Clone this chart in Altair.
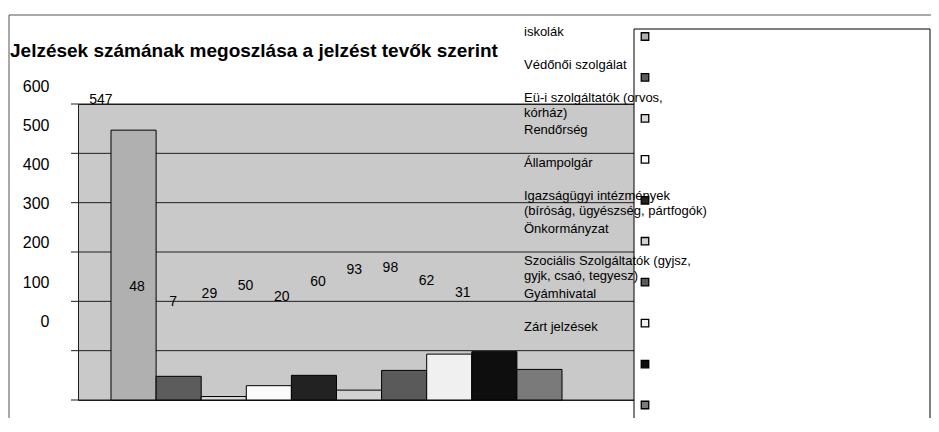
import altair as alt
import pandas as pd

FONT = "Liberation Sans, Arial, sans-serif"

title_text = "Jelzések számának megoszlása a jelzést tevők szerint"
categories = [
    "iskolák",
    "Védőnői szolgálat",
    "Eü-i szolgáltatók (orvos,\nkórház)",
    "Rendőrség",
    "Állampolgár",
    "Igazságügyi intézmények\n(bíróság, ügyészség, pártfogók)",
    "Önkormányzat",
    "Szociális Szolgáltatók (gyjsz,\ngyjk, csaó, tegyesz)",
    "Gyámhivatal",
    "Zárt jelzések",
]
values = [547, 48, 7, 29, 50, 20, 60, 93, 98, 62]
data_labels = [547, 48, 7, 29, 50, 20, 60, 93, 98, 62, 31]
y_ticks = [0, 100, 200, 300, 400, 500, 600]
bar_colors = ["#b0b0b0", "#5c5c5c", "#dadada", "#fbfbfb", "#222222",
              "#d2d2d2", "#5a5a5a", "#f0f0f0", "#0e0e0e", "#7a7a7a"]

W, H = 556, 296

base_df = pd.DataFrame({"cat": categories, "value": values})
labels_df = pd.DataFrame({"idx": list(range(len(data_labels))), "value": data_labels})
ticks_df = pd.DataFrame({"tick": y_ticks})
one = pd.DataFrame({"a": [0]})

color = alt.Color("cat:N", scale=alt.Scale(domain=categories, range=bar_colors), legend=None)

frame = alt.Chart(one).mark_rect(fillOpacity=0, stroke="#555555", strokeWidth=1).encode(
    x=alt.value(-69), x2=alt.value(1000), y=alt.value(-89), y2=alt.value(1000)
)

grid = alt.Chart(ticks_df).mark_rule(color="#1e1e1e", strokeWidth=1).encode(
    y=alt.Y("tick:Q", scale=alt.Scale(domain=[0, 600], range=[H, 0], nice=False), axis=None),
    x=alt.value(-7), x2=alt.value(W),
)

bars = alt.Chart(base_df).mark_bar(stroke="black", strokeWidth=1).encode(
    x=alt.X("cat:N", sort=categories,
            scale=alt.Scale(range=[33, 484], paddingInner=0, paddingOuter=0), axis=None),
    y=alt.Y("value:Q", scale=alt.Scale(domain=[0, 600], range=[H, 0], nice=False), axis=None),
    color=color,
)

bar_labels = alt.Chart(labels_df).mark_text(
    font=FONT, fontSize=14, color="black", align="center", baseline="middle"
).encode(
    x=alt.X("idx:O", scale=alt.Scale(type="point", range=[22.8, 384.8], padding=0), axis=None),
    y=alt.Y("value:Q", scale=alt.Scale(domain=[0, 600], range=[200.6, -23.8], nice=False), axis=None),
    text="value:Q",
)

tick_labels = alt.Chart(ticks_df).mark_text(
    font=FONT, fontSize=16, color="black", align="right", baseline="middle"
).encode(
    x=alt.value(-28.5),
    y=alt.Y("tick:Q", scale=alt.Scale(domain=[0, 600], range=[217.7, -17.3], nice=False), axis=None),
    text="tick:Q",
)

title = alt.Chart(one).mark_text(
    text=title_text, font=FONT, fontSize=19, fontWeight="bold", color="black",
    align="left", baseline="middle"
).encode(x=alt.value(-68), y=alt.value(-53))

legend_box = alt.Chart(one).mark_rect(fill="white", stroke="black", strokeWidth=1).encode(
    x=alt.value(556), x2=alt.value(852), y=alt.value(-75), y2=alt.value(1000)
)

legend_text = alt.Chart(base_df).mark_text(
    font=FONT, fontSize=13, color="black", align="left", baseline="top", dy=-7,
    lineBreak="\n", lineHeight=15
).encode(
    x=alt.value(446),
    y=alt.Y("cat:N", sort=categories,
            scale=alt.Scale(type="point", range=[-71, 224], padding=0), axis=None),
    text="cat:N",
)

swatches = alt.Chart(base_df).mark_square(
    size=56, stroke="black", strokeWidth=1.3, opacity=1, filled=True
).encode(
    x=alt.value(567),
    y=alt.Y("cat:N", sort=categories,
            scale=alt.Scale(type="point", range=[-67.5, 301], padding=0), axis=None),
    color=color,
)

chart = alt.layer(
    frame, grid, bars, bar_labels, tick_labels, title, legend_box, legend_text, swatches
).resolve_scale(
    x="independent", y="independent"
).properties(
    width=W, height=H,
    padding={"left": 70, "top": 96, "right": 297, "bottom": 18},
    autosize=alt.AutoSizeParams(type="none"),
    background="white",
).configure_view(
    fill="#c9c9c9", stroke="#1e1e1e", strokeWidth=1
)

chart.save("out.html", embed_options={"renderer": "svg", "actions": False})
